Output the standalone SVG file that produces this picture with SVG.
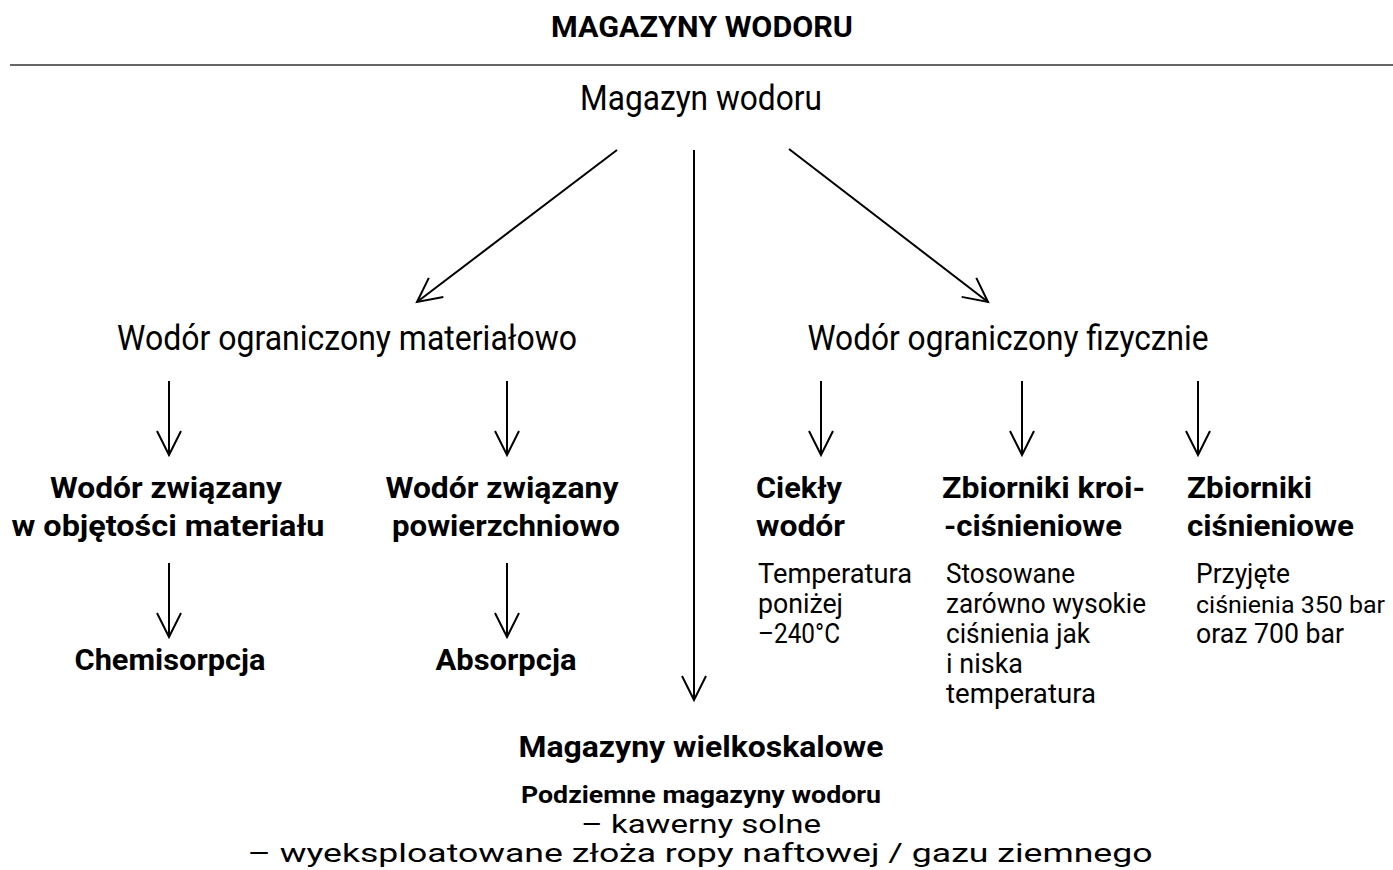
<svg xmlns="http://www.w3.org/2000/svg" width="1393" height="870" viewBox="0 0 1393 870">
<style>
text{font-family:Roboto,"Liberation Sans",sans-serif;fill:#000}
.t{font-size:30px;font-weight:700}
.r1{font-size:35px;font-weight:400}
.b{font-size:30px;font-weight:700}
.s{font-size:27px;font-weight:400}
.sb{font-size:24px;font-weight:700}
.sr{font-size:25px;font-weight:400}
.c{text-anchor:middle}
.ln{stroke:#000;stroke-width:2;fill:none;marker-end:url(#ah)}
</style>
<defs>
<marker id="ah" markerUnits="userSpaceOnUse" markerWidth="40" markerHeight="40" viewBox="-30 -20 40 40" refX="0" refY="0" orient="auto">
<path d="M-24,-12 L0,0 L-24,12" fill="none" stroke="#000" stroke-width="2"/>
</marker>
</defs>
<rect width="1393" height="870" fill="#fff"/>
<g id="title">
<text class="t c" x="702" y="37" textLength="302" lengthAdjust="spacingAndGlyphs">MAGAZYNY WODORU</text>
<line x1="10" y1="65" x2="1393" y2="65" stroke="#333" stroke-width="1.5"/>
</g>
<g id="connectors">
<line class="ln" x1="617" y1="150" x2="417" y2="302"/>
<line class="ln" x1="694" y1="150" x2="694" y2="700"/>
<line class="ln" x1="789" y1="149" x2="988" y2="302"/>
<line class="ln" x1="169" y1="381" x2="169" y2="455"/>
<line class="ln" x1="507" y1="381" x2="507" y2="455"/>
<line class="ln" x1="169" y1="563" x2="169" y2="637"/>
<line class="ln" x1="507" y1="563" x2="507" y2="637"/>
<line class="ln" x1="821" y1="381" x2="821" y2="455"/>
<line class="ln" x1="1022" y1="381" x2="1022" y2="455"/>
<line class="ln" x1="1198" y1="381" x2="1198" y2="455"/>
</g>
<g id="root"><text class="r1 c" x="701" y="110" textLength="242" lengthAdjust="spacingAndGlyphs">Magazyn wodoru</text></g>
<g id="material"><text class="r1 c" x="347" y="350" textLength="460" lengthAdjust="spacingAndGlyphs">Wodór ograniczony materiałowo</text></g>
<g id="physical"><text class="r1 c" x="1008" y="350" textLength="401" lengthAdjust="spacingAndGlyphs">Wodór ograniczony fizycznie</text></g>
<g id="volume">
<text class="b c" x="166" y="498" textLength="232" lengthAdjust="spacingAndGlyphs">Wodór związany</text>
<text class="b c" x="168" y="536" textLength="313" lengthAdjust="spacingAndGlyphs">w objętości materiału</text>
</g>
<g id="surface">
<text class="b c" x="502" y="498" textLength="233" lengthAdjust="spacingAndGlyphs">Wodór związany</text>
<text class="b c" x="506" y="536" textLength="228" lengthAdjust="spacingAndGlyphs">powierzchniowo</text>
</g>
<g id="chemisorption"><text class="b c" x="170" y="670" textLength="191" lengthAdjust="spacingAndGlyphs">Chemisorpcja</text></g>
<g id="absorption"><text class="b c" x="506" y="670" textLength="141" lengthAdjust="spacingAndGlyphs">Absorpcja</text></g>
<g id="liquid">
<text class="b" x="756" y="498" textLength="86" lengthAdjust="spacingAndGlyphs">Ciekły</text>
<text class="b" x="756" y="536" textLength="89" lengthAdjust="spacingAndGlyphs">wodór</text>
<text class="s" x="758" y="583" textLength="154" lengthAdjust="spacingAndGlyphs">Temperatura</text>
<text class="s" x="758" y="613" textLength="85" lengthAdjust="spacingAndGlyphs">poniżej</text>
<text class="s" x="758" y="643" textLength="82" lengthAdjust="spacingAndGlyphs">–240°C</text>
</g>
<g id="cryo">
<text class="b" x="942" y="498" textLength="203" lengthAdjust="spacingAndGlyphs">Zbiorniki kroi-</text>
<text class="b" x="944" y="536" textLength="178" lengthAdjust="spacingAndGlyphs">-ciśnieniowe</text>
<text class="s" x="946" y="583" textLength="129" lengthAdjust="spacingAndGlyphs">Stosowane</text>
<text class="s" x="946" y="613" textLength="200" lengthAdjust="spacingAndGlyphs">zarówno wysokie</text>
<text class="s" x="946" y="643" textLength="144" lengthAdjust="spacingAndGlyphs">ciśnienia jak</text>
<text class="s" x="946" y="673" textLength="77" lengthAdjust="spacingAndGlyphs">i niska</text>
<text class="s" x="946" y="703" textLength="150" lengthAdjust="spacingAndGlyphs">temperatura</text>
</g>
<g id="pressure">
<text class="b" x="1187" y="498" textLength="125" lengthAdjust="spacingAndGlyphs">Zbiorniki</text>
<text class="b" x="1187" y="536" textLength="167" lengthAdjust="spacingAndGlyphs">ciśnieniowe</text>
<text class="s" x="1196" y="583" textLength="94" lengthAdjust="spacingAndGlyphs">Przyjęte</text>
<text class="s" x="1196" y="613" textLength="189" lengthAdjust="spacingAndGlyphs" style="font-size:24px">ciśnienia 350 bar</text>
<text class="s" x="1196" y="643" textLength="148" lengthAdjust="spacingAndGlyphs">oraz 700 bar</text>
</g>
<g id="largescale">
<text class="b c" x="701" y="757" textLength="365" lengthAdjust="spacingAndGlyphs">Magazyny wielkoskalowe</text>
<text class="sb c" x="701" y="803" textLength="360" lengthAdjust="spacingAndGlyphs">Podziemne magazyny wodoru</text>
<text class="sr c" x="701" y="833" textLength="240" lengthAdjust="spacingAndGlyphs">– kawerny solne</text>
<text class="sr c" x="700" y="862" textLength="905" lengthAdjust="spacingAndGlyphs">– wyeksploatowane złoża ropy naftowej / gazu ziemnego</text>
</g>
</svg>
